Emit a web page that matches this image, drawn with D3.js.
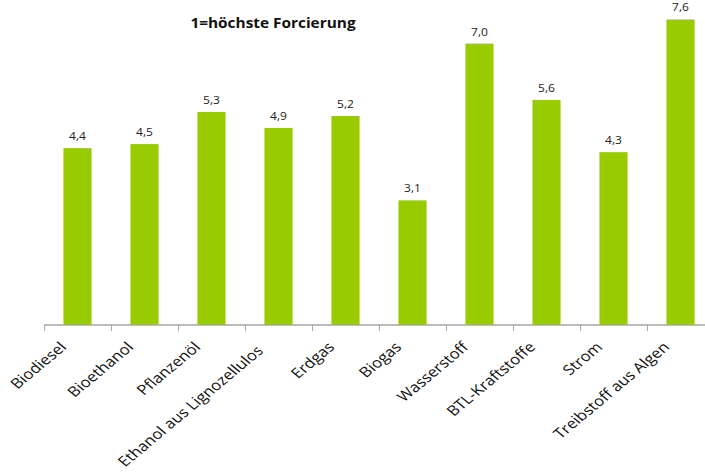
<!DOCTYPE html>
<html>
<head>
    <meta charset="utf-8">
    <title>Forcierung</title>
    <script src="https://d3js.org/d3.v7.min.js"></script>
    <style>
        body { margin: 0; padding: 0; background: #fff; }
        text { font-family: "Open Sans", sans-serif; }
    </style>
</head>
<body>
    <div id="chart"></div>

    <script>
// data
const categories = ["Biodiesel", "Bioethanol", "Pflanzenöl", "Ethanol aus Lignozellulose",
  "Erdgas", "Biogas", "Wasserstoff", "BTL-Kraftstoffe", "Strom", "Treibstoff aus Algen"];
const values = [4.4, 4.5, 5.3, 4.9, 5.2, 3.1, 7.0, 5.6, 4.3, 7.6];
const title = "1=höchste Forcierung";

const width = 705;
const height = 473;
const baseY = 325;
const labelMax = 163;   // longer labels get cut, like the original
const labelReach = 169; // how far down a cut label starts

const svg = d3.select("#chart")
  .append("svg")
    .attr("width", width)
    .attr("height", height);

// x: 10 bands, last one runs past the right edge like the original
const x = d3.scaleBand()
  .domain(categories)
  .range([44, 714])
  .paddingInner(0.58)
  .paddingOuter(0.29);

const y = d3.scaleLinear()
  .domain([0, 8])
  .range([baseY, baseY - 8 * 40.2]);

const fmt = d => d3.format(".1f")(d).replace(".", ",");

// bars
svg.selectAll("rect.bar")
  .data(values)
  .join("rect")
    .attr("class", "bar")
    .attr("x", (d, i) => x(categories[i]))
    .attr("y", d => y(d))
    .attr("width", x.bandwidth())
    .attr("height", d => y(0) - y(d))
    .attr("fill", "#99cc00");

// value labels
svg.selectAll("text.val")
  .data(values)
  .join("text")
    .attr("class", "val")
    .attr("transform", (d, i) =>
      `translate(${x(categories[i]) + x.bandwidth() / 2},${y(d) - 8}) scale(1.2,1)`)
    .attr("text-anchor", "middle")
    .style("font-size", "10px")
    .style("fill", "#222")
    .text(d => fmt(d));

// axis line + ticks between categories
svg.append("line")
    .attr("x1", 44).attr("x2", width)
    .attr("y1", baseY).attr("y2", baseY)
    .attr("stroke", "#a6a6a6")
    .attr("stroke-width", 1.5);

const step = x.step();
svg.selectAll("line.tick")
  .data(d3.range(categories.length + 1))
  .join("line")
    .attr("class", "tick")
    .attr("x1", i => 44 + i * step + 0.5)
    .attr("x2", i => 44 + i * step + 0.5)
    .attr("y1", baseY)
    .attr("y2", baseY + 6)
    .attr("stroke", "#a6a6a6");

// clip used by labels that are too long (in the label's own coords)
svg.append("clipPath")
    .attr("id", "labclip")
    .attr("clipPathUnits", "userSpaceOnUse")
  .append("rect")
    .attr("x", 0).attr("y", -20)
    .attr("width", labelMax).attr("height", 30);

// category labels, rotated 45deg and stretched a bit sideways
const sx = 1.2, k = Math.SQRT1_2;
svg.selectAll("text.cat")
  .data(categories)
  .join("text")
    .attr("class", "cat")
    .style("font-size", "14px")
    .style("fill", "#111")
    .text(d => d)
    .each(function(d) {
      const px = x(d) + x.bandwidth() / 2 - 10;
      const py = 348;
      const el = d3.select(this);
      if (this.getComputedTextLength() > labelMax) {
        el.attr("text-anchor", "start")
          .attr("clip-path", "url(#labclip)")
          .attr("transform", `translate(${px - labelReach * k * sx},${py + labelReach * k}) scale(${sx},1) rotate(-45)`);
      } else {
        el.attr("text-anchor", "end")
          .attr("transform", `translate(${px},${py}) scale(${sx},1) rotate(-45)`);
      }
    });

// title
svg.append("text")
    .attr("transform", "translate(273,28) scale(1.1,1)")
    .attr("text-anchor", "middle")
    .style("font-size", "14px")
    .style("font-weight", "bold")
    .style("fill", "#111")
    .text(title);
    </script>
</body>
</html>
